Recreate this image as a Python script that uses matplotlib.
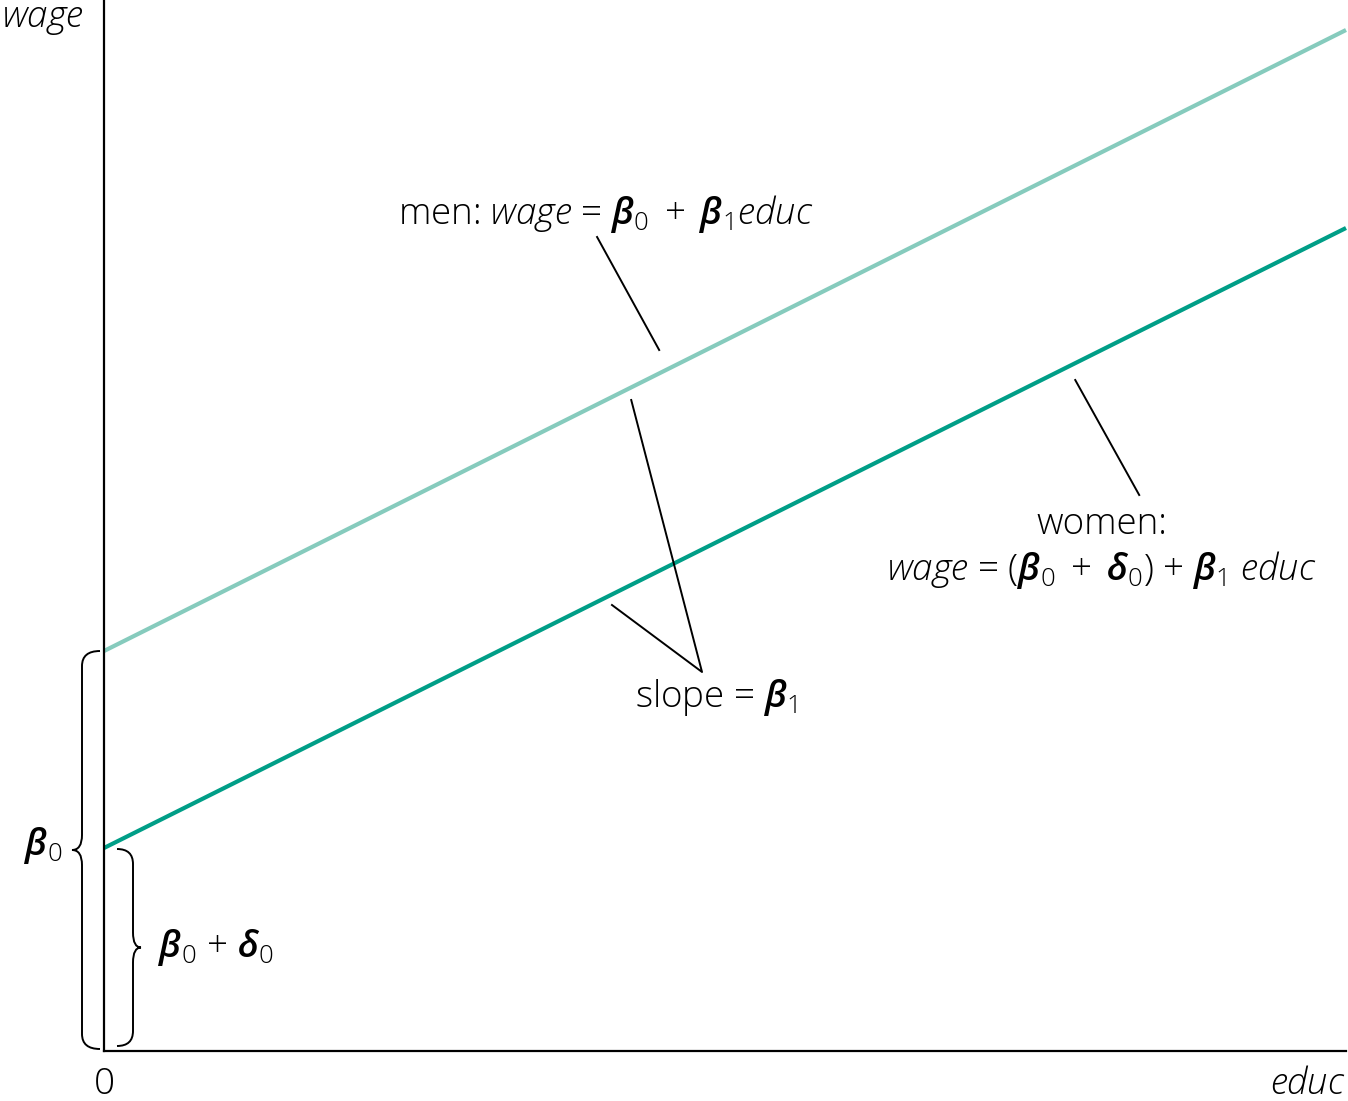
import matplotlib
matplotlib.use("Agg")
import matplotlib.pyplot as plt
from matplotlib.path import Path
from matplotlib.patches import PathPatch
from matplotlib import transforms

# ---------------- data ----------------
educ = [0, 20]
men_wage = [4.00, 10.21]
women_wage = [2.03, 8.23]
beta0 = 4.00            # men intercept
beta0_delta0 = 2.03     # women intercept

# leader lines (data coords)
men_leader = ([7.94, 8.94], [8.14, 7.01])
slope_leader_x = [8.49, 9.63, 8.18]
slope_leader_y = [6.51, 3.79, 4.46]
women_leader = ([15.64, 16.67], [6.71, 5.56])

MEN_COLOR = "#86cbbd"
WOMEN_COLOR = "#009e87"

plt.rcParams['font.family'] = ['Open Sans', 'DejaVu Sans']
plt.rcParams['font.weight'] = 'light'
plt.rcParams['mathtext.fontset'] = 'custom'
plt.rcParams['mathtext.rm'] = 'Open Sans:light'
plt.rcParams['mathtext.it'] = 'Open Sans:italic:light'
plt.rcParams['mathtext.bf'] = 'Open Sans:semibold'
plt.rcParams['mathtext.bfit'] = 'Open Sans:italic:semibold'

W, H = 1348, 1101
fig = plt.figure(figsize=(W / 100, H / 100), dpi=100)
ax = fig.add_axes([104 / W, (H - 1051) / H, 1242 / W, 1051 / H])
ax.set_xlim(0, 20)
ax.set_ylim(0, 10.51)
for s in ['top', 'right']:
    ax.spines[s].set_visible(False)
for s in ['left', 'bottom']:
    ax.spines[s].set_linewidth(1.6)
ax.set_xticks([])
ax.set_yticks([])

ax.plot(educ, men_wage, color=MEN_COLOR, lw=3.0, solid_capstyle='butt', clip_on=False)
ax.plot(educ, women_wage, color=WOMEN_COLOR, lw=3.0, solid_capstyle='butt', clip_on=False)

lk = dict(color='black', lw=1.4, clip_on=False)
ax.plot(*men_leader, **lk)
ax.plot(slope_leader_x, slope_leader_y, **lk)
ax.plot(*women_leader, **lk)

FS = 26.5
ax.text(8.08, 8.37, r'men: $\mathit{wage}$ = $\mathbfit{\beta}_0\,$ + $\,\mathbfit{\beta}_1\mathit{educ}$',
        ha='center', va='center', fontsize=FS, clip_on=False)
ax.text(16.07, 5.26, 'women:', ha='center', va='center', fontsize=FS)
ax.text(16.07, 4.81, r'$\mathit{wage}$ = ($\mathbfit{\beta}_0\,$ + $\,\mathbfit{\delta}_0$) + $\mathbfit{\beta}_1$ $\mathit{educ}$',
        ha='center', va='center', fontsize=FS)
ax.text(9.86, 3.54, r'slope = $\mathbfit{\beta}_1$', ha='center', va='center', fontsize=FS)
ax.text(-0.98, 2.06, r'$\mathbfit{\beta}_0$', ha='center', va='center', fontsize=FS, clip_on=False)
ax.text(0.87, 1.03, r'$\mathbfit{\beta}_0$ + $\mathbfit{\delta}_0$', ha='left', va='center', fontsize=FS)
ax.text(0, -0.34, '0', ha='center', va='center', fontsize=FS, clip_on=False)
ax.text(20, -0.34, r'$\mathit{educ}$', ha='right', va='center', fontsize=FS, clip_on=False)
ax.text(-0.32, 10.32, r'$\mathit{wage}$', ha='right', va='center', fontsize=FS, clip_on=False)

# curly braces: x in display pixels, y in data
blend = transforms.blended_transform_factory(transforms.IdentityTransform(), ax.transData)


def brace(x_end, x_mid, x_tip, y_top, y_bot, r=0.15):
    yc = (y_top + y_bot) / 2
    verts = [
        (x_end, y_top), (x_mid, y_top), (x_mid, y_top - r),
        (x_mid, yc + r), (x_mid, yc), (x_tip, yc),
        (x_mid, yc), (x_mid, yc - r),
        (x_mid, y_bot + r), (x_mid, y_bot), (x_end, y_bot),
    ]
    codes = [Path.MOVETO, Path.CURVE3, Path.CURVE3,
             Path.LINETO, Path.CURVE3, Path.CURVE3,
             Path.CURVE3, Path.CURVE3,
             Path.LINETO, Path.CURVE3, Path.CURVE3]
    p = PathPatch(Path(verts, codes), transform=blend, fill=False,
                  lw=1.4, edgecolor='black', clip_on=False)
    ax.add_patch(p)


brace(100, 82, 72, beta0, 0.02)
brace(117, 133, 141, beta0_delta0 - 0.01, 0.05)

fig.savefig("out.png", dpi=100)
